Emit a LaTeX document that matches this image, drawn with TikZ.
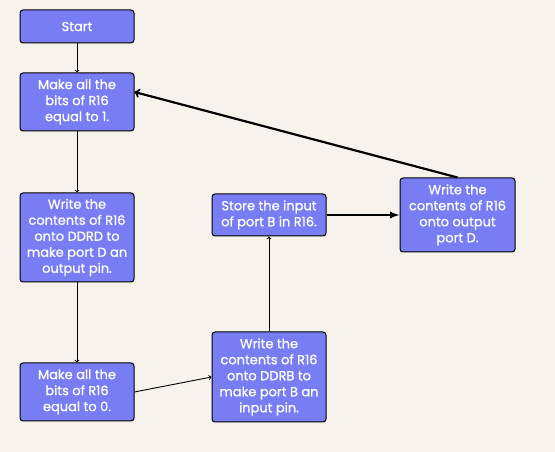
\documentclass[tikz,border=0pt]{standalone}
\usepackage{fontspec}
\setmainfont{Poppins}
\newfontfamily\boxfont{Poppins}[FakeBold=0.8]
\usepackage{xcolor}
\usetikzlibrary{positioning,shapes.geometric}
\usetikzlibrary{arrows}

\definecolor{bgcol}{RGB}{247,243,236}
\definecolor{boxcol}{RGB}{121,125,243}

\begin{document}
\begin{tikzpicture}[
	  x=1pt, y=1pt,
	  %style for thin arrows
	  arrw/.style={line width=0.9pt, ->, >=to},
	  %style for thick arrows
	  bigarrw/.style={line width=2.2pt, ->, >=to},
      % style for boxes
      op/.style={rectangle, rounded corners=3pt, fill=boxcol, draw=black,
        line width=1pt, text=white, minimum width=114pt, align=center,
        font=\boxfont\fontsize{13}{16}\selectfont, inner sep=1pt}]

      \fill[bgcol] (0,0) rectangle (555,452);
      \useasboundingbox (0,0) rectangle (555,452);

      \node[op, minimum height=33pt](start) at (77,425.5){Start};
      \node[op, minimum height=58pt](setone) at (77,350){Make all the\\bits of R16\\equal to 1.};
      \node[op, minimum height=89pt](ddrd) at (77,214.5){Write the\\contents of R16\\onto DDRD to\\make port D an\\output pin.};
      \node[op, minimum height=58pt](setzero) at (77,60){Make all the\\bits of R16\\equal to 0.};
      \node[op, minimum height=90pt](ddrb) at (269,75){Write the\\contents of R16\\onto DDRB to\\make port B an\\input pin.};
      \node[op, minimum height=42pt](readb) at (269,237){Store the input\\of port B in R16.};
      \node[op, minimum height=74pt, minimum width=115pt](outd) at (457.5,237){Write the\\contents of R16\\onto output\\port D.};

      \draw[arrw] (start) -- (setone);
      \draw[arrw] (setone) -- (ddrd);
      \draw[arrw] (ddrd) -- (setzero);
      \draw[arrw] (setzero.east) -- (ddrb.west);
      \draw[arrw] (ddrb) -- (readb);
      \draw[bigarrw, >=latex] (readb.east) -- (outd.west);
      \draw[bigarrw] (outd.north) -- ([yshift=10pt]setone.east);

\end{tikzpicture}
\end{document}
